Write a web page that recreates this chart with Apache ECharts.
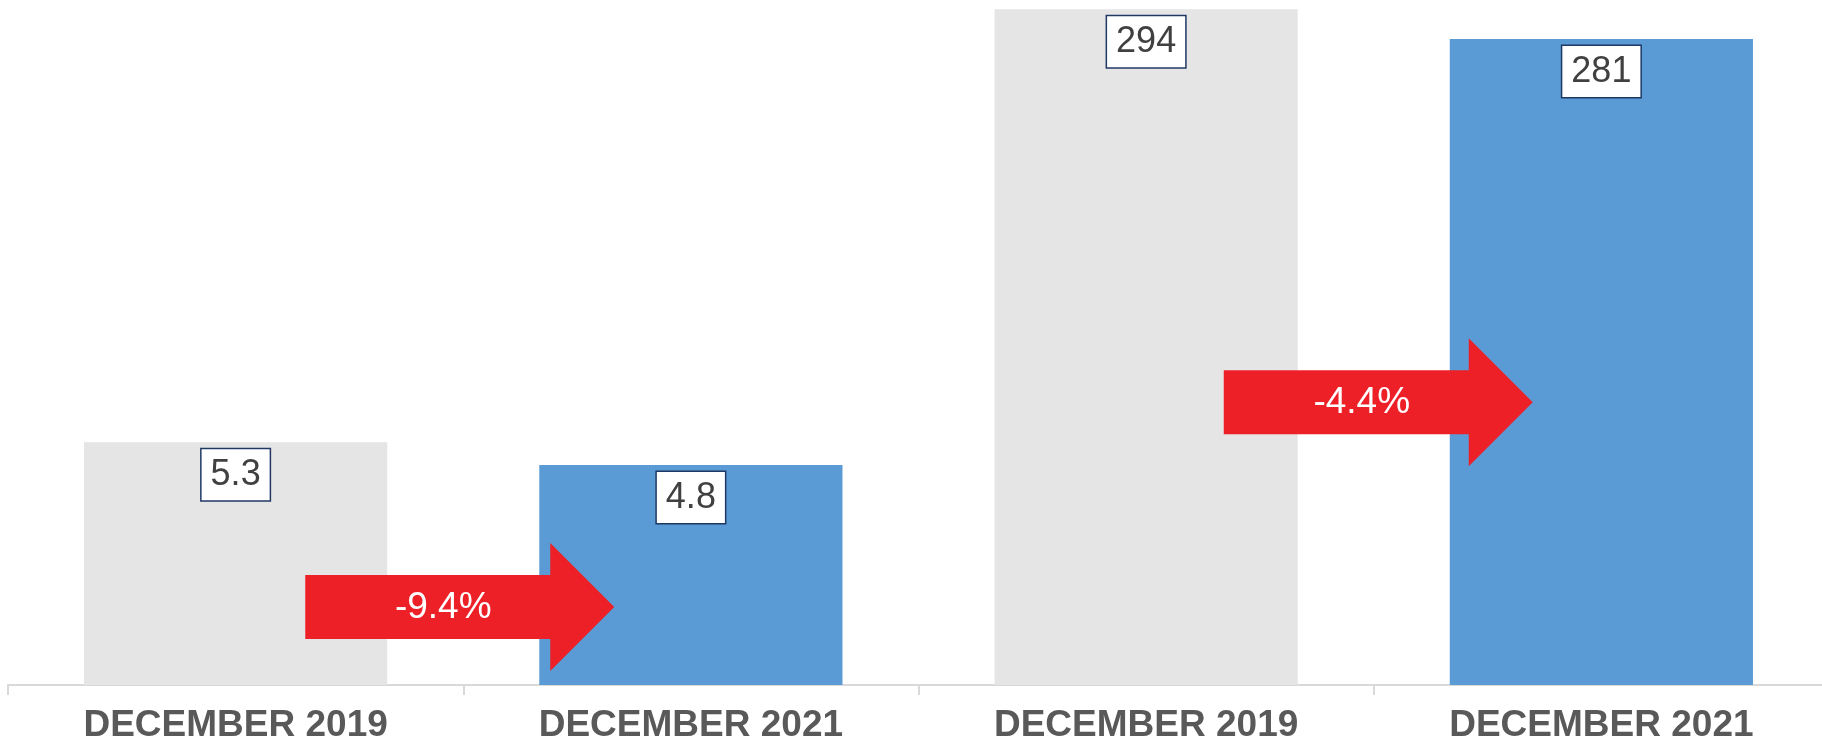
<!DOCTYPE html>
<html>
<head>
<meta charset="utf-8">
<script src="https://cdn.jsdelivr.net/npm/echarts@6/dist/echarts.min.js"></script>
<style>
html,body{margin:0;padding:0;background:#fff;}
#chart{width:1822px;height:745px;}
</style>
</head>
<body>
<div id="chart"></div>
<script>
// ---- data ----
var categories = ['DECEMBER 2019', 'DECEMBER 2021', 'DECEMBER 2019', 'DECEMBER 2021'];
var pairOneValues = [5.3, 4.8];      // left pair (left hidden axis)
var pairTwoValues = [294, 281];      // right pair (right hidden axis)
var changeLabels = ['-9.4%', '-4.4%'];

// ---- styling / layout constants ----
var FONT = '"Liberation Sans", Arial, Helvetica, sans-serif';
var GREY = '#E5E5E5', BLUE = '#5B9BD5', RED = '#ED2028';
var arrowLevels = [1.7, 123]; // vertical placement of change arrows (in each pair's axis units)
var arrowShifts = [-4, 4];    // small horizontal nudge (px) of each arrow

function barItems(vals, offset) {
  var out = [null, null, null, null];
  vals.forEach(function (v, i) {
    out[offset + i] = { value: v, itemStyle: { color: i === 0 ? GREY : BLUE } };
  });
  return out;
}

var labelStyle = {
  show: true,
  position: 'insideTop',
  distance: 7,
  color: '#404040',
  fontFamily: FONT,
  fontSize: 36,
  backgroundColor: '#fff',
  borderColor: '#1F3864',
  borderWidth: 1.5,
  padding: [8, 9, 7, 9]
};

function arrowSeries(pairIdx) {
  return {
    type: 'custom',
    yAxisIndex: pairIdx,
    z: 10,
    data: [[pairIdx * 2, arrowLevels[pairIdx], changeLabels[pairIdx]]],
    renderItem: function (params, api) {
      var c = api.value(0);
      var p0 = api.coord([c, api.value(1)]);
      var p1 = api.coord([c + 1, api.value(1)]);
      var cx = (p0[0] + p1[0]) / 2 + arrowShifts[pairIdx];
      var cy = p0[1];
      var start = cx - 154, bodyEnd = start + 245, tip = start + 309;
      var bh = 32, hh = 64;
      return {
        type: 'group',
        children: [
          {
            type: 'polygon',
            shape: { points: [
              [start, cy - bh], [bodyEnd, cy - bh], [bodyEnd, cy - hh], [tip, cy],
              [bodyEnd, cy + hh], [bodyEnd, cy + bh], [start, cy + bh]
            ] },
            style: { fill: RED }
          },
          {
            type: 'text',
            style: {
              text: api.value(2),
              x: start + 138, y: cy + 1,
              fill: '#fff',
              fontSize: 37,
              fontFamily: FONT,
              align: 'center',
              verticalAlign: 'middle'
            }
          }
        ]
      };
    }
  };
}

var chart = echarts.init(document.getElementById('chart'), null, { renderer: 'canvas' });
chart.setOption({
  animation: false,
  backgroundColor: '#fff',
  grid: { left: 8, right: -7, top: 0, bottom: 60, containLabel: false, outerBoundsMode: 'none' },
  xAxis: {
    type: 'category',
    data: categories,
    axisLine: { show: true, lineStyle: { color: '#D9D9D9', width: 2 } },
    axisTick: { show: true, length: 10, lineStyle: { color: '#D9D9D9', width: 2 } },
    axisLabel: {
      color: '#595959', fontFamily: FONT, fontWeight: 'bold', fontSize: 37, margin: 22,
      interval: 0
    },
    splitLine: { show: false }
  },
  yAxis: [
    { type: 'value', min: 0, max: 14.95, show: false },
    { type: 'value', min: 0, max: 298, show: false }
  ],
  series: [
    {
      type: 'bar', yAxisIndex: 0, barWidth: '66.6%', barGap: '-100%',
      data: barItems(pairOneValues, 0), label: labelStyle
    },
    {
      type: 'bar', yAxisIndex: 1, barWidth: '66.6%', barGap: '-100%',
      data: barItems(pairTwoValues, 2), label: labelStyle
    },
    arrowSeries(0),
    arrowSeries(1)
  ]
});
</script>
</body>
</html>
